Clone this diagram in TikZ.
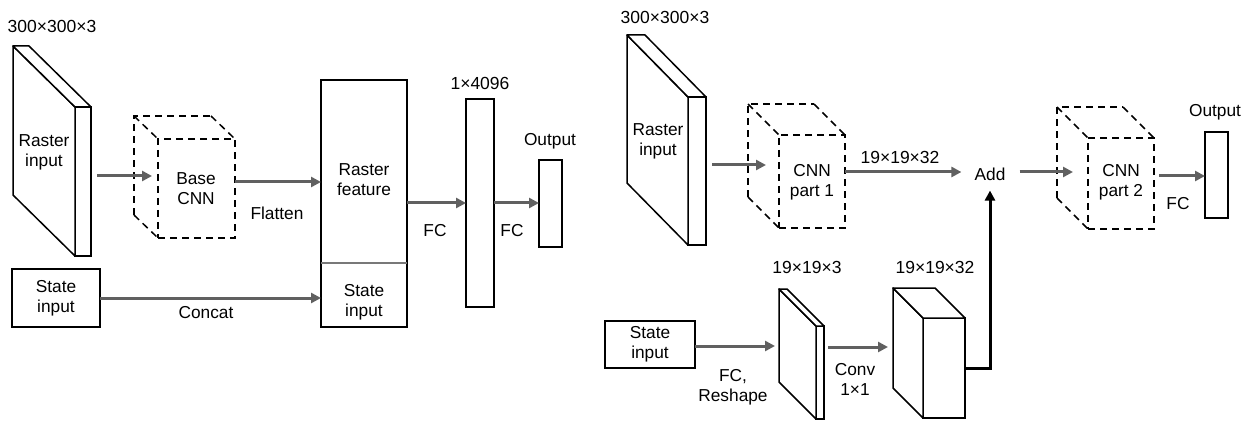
\documentclass[tikz,border=0pt]{standalone}
\usepackage{fontspec}
\setmainfont{Liberation Sans}
\usetikzlibrary{arrows.meta}
\definecolor{arrowgrey}{RGB}{96,96,96}
\definecolor{divgrey}{RGB}{120,120,120}
\tikzset{
  lbl/.style={font=\fontsize{17.3}{20}\selectfont, align=center, inner sep=0pt},
  dimlbl/.style={font=\fontsize{17.5}{20}\selectfont, inner sep=0pt},
  box/.style={draw, line width=1.5pt, fill=white, inner sep=0pt, outer sep=0pt},
  dbox/.style={draw, line width=1.5pt, dash pattern=on 7pt off 5pt, inner sep=0pt, outer sep=0pt},
  edge/.style={line width=1.5pt, line join=round, fill=white},
  dedge/.style={line width=1.5pt, dash pattern=on 7pt off 5pt},
  flow/.style={draw=arrowgrey, line width=3pt, -{Triangle[length=10pt,width=10pt]}},
  blkflow/.style={draw=black, line width=3pt, -{Triangle[length=10pt,width=10pt]}},
}
\begin{document}
\begin{tikzpicture}[x=1pt,y=-1pt]
\useasboundingbox (0,0) rectangle (1250,422);

%================ LEFT DIAGRAM ================
\node[dimlbl] (dimL) at (52,26) {300×300×3};
% raster input slab
\node[box, minimum width=16, minimum height=149] (rsL) at (83,181.5) {};
\draw[edge] (13,46) -- (rsL.north west) -- (rsL.south west) -- (13,195) -- cycle;
\draw[edge] (13,46) -- (29,46) -- (rsL.north east) -- (rsL.north west) -- cycle;
\node[lbl] (rsLt) at (44,152) {Raster\\input};

% base CNN dashed cube
\node[dbox, minimum width=77, minimum height=99] (cnnB) at (196.5,188.5) {};
\coordinate (cBtl) at (134,116);
\coordinate (cBtr) at (211,116);
\coordinate (cBbl) at (134,215);
\draw[dedge] (cBbl) -- (cBtl) -- (cBtr);
\draw[dedge] (cBtl) -- (cnnB.north west);
\draw[dedge] (cBtr) -- (cnnB.north east);
\draw[dedge] (cBbl) -- (cnnB.south west);
\node[lbl] (cnnBt) at (196,189) {Base\\CNN};

% raster feature / state input box
\node[box, minimum width=86, minimum height=247] (rf) at (364,203.5) {};
\draw[divgrey, line width=1.2pt] (rf.west |- 0,263) -- (rf.east |- 0,263);
\node[lbl] (rft) at (364,180) {Raster\\feature};
\node[lbl] (rfs) at (364,302) {State\\input};

% state input box
\node[box, minimum width=88, minimum height=58, lbl] (siL) at (56,298) {State\\input};

% 1x4096
\node[box, minimum width=28, minimum height=208] (fc4096) at (480,203) {};
\node[dimlbl] (dim4096) at (480,83) {1×4096};

% output
\node[box, minimum width=23, minimum height=87] (outL) at (550.5,203.5) {};
\node[lbl] (outLt) at (550,141) {Output};

% arrows left
\coordinate (a1s) at (97,176);
\draw[flow] (a1s) -- (152,176) coordinate (a1e);
\draw[flow] (cnnB.east |- 0,182) -- (rf.west |- 0,182);
\node[lbl] (flat) at (277,213) {Flatten};
\draw[flow] (siL.east) -- (rf.west |- siL.east);
\node[lbl] (concat) at (206,313) {Concat};
\draw[flow] (rf.east |- 0,203) -- (fc4096.west |- 0,203);
\node[lbl] (fc1) at (435,231) {FC};
\draw[flow] (fc4096.east |- 0,203) -- (outL.west |- 0,203);
\node[lbl] (fc2) at (512,231) {FC};

%================ RIGHT DIAGRAM ================
\node[dimlbl] (dimR) at (665,17) {300×300×3};
\node[box, minimum width=18, minimum height=148] (rsR) at (697,171) {};
\draw[edge] (627,35) -- (rsR.north west) -- (rsR.south west) -- (627,183) -- cycle;
\draw[edge] (627,35) -- (645,35) -- (rsR.north east) -- (rsR.north west) -- cycle;
\node[lbl] (rsRt) at (658,141) {Raster\\input};

% CNN part 1
\node[dbox, minimum width=66, minimum height=93] (cnn1) at (812,181.5) {};
\coordinate (c1tl) at (748,104);
\coordinate (c1tr) at (814,104);
\coordinate (c1bl) at (748,197);
\draw[dedge] (c1bl) -- (c1tl) -- (c1tr);
\draw[dedge] (c1tl) -- (cnn1.north west);
\draw[dedge] (c1tr) -- (cnn1.north east);
\draw[dedge] (c1bl) -- (cnn1.south west);
\node[lbl] (cnn1t) at (812,182) {CNN\\part 1};

% Add
\node[lbl] (add) at (990,174) {Add};

% CNN part 2
\node[dbox, minimum width=66, minimum height=91] (cnn2) at (1121,183.5) {};
\coordinate (c2tl) at (1057,107);
\coordinate (c2tr) at (1123,107);
\coordinate (c2bl) at (1057,198);
\draw[dedge] (c2bl) -- (c2tl) -- (c2tr);
\draw[dedge] (c2tl) -- (cnn2.north west);
\draw[dedge] (c2tr) -- (cnn2.north east);
\draw[dedge] (c2bl) -- (cnn2.south west);
\node[lbl] (cnn2t) at (1121,182) {CNN\\part 2};

% output right
\node[box, minimum width=23, minimum height=86] (outR) at (1216.5,175) {};
\node[lbl] (outRt) at (1215,112) {Output};

% state input right
\node[box, minimum width=90, minimum height=47, lbl] (siR) at (650,344.5) {State\\input};

% thin slab 19x19x3
\node[box, minimum width=8, minimum height=93] (s3) at (820,372.5) {};
\draw[edge] (779,289) -- (s3.north west) -- (s3.south west) -- (779,382) -- cycle;
\draw[edge] (779,289) -- (787,289) -- (s3.north east) -- (s3.north west) -- cycle;
\node[dimlbl] (dim3) at (807,267) {19×19×3};

% block 19x19x32
\node[box, minimum width=42, minimum height=100] (b32) at (944,368) {};
\draw[edge] (893,288) -- (b32.north west) -- (b32.south west) -- (893,388) -- cycle;
\draw[edge] (893,288) -- (935,288) -- (b32.north east) -- (b32.north west) -- cycle;
\node[dimlbl] (dim32) at (935,267) {19×19×32};

% arrows right
\coordinate (r1s) at (712,165);
\draw[flow] (r1s) -- (766,165) coordinate (r1e);
\draw[flow, shorten >=13pt] (cnn1.east |- 0,172) -- (add.west |- 0,172);
\node[dimlbl] (dim1932) at (900,157) {19×19×32};
\draw[flow, shorten <=14pt] (add.east |- 0,172) -- (1073,172) coordinate (a2e);
\draw[flow, shorten <=5pt] (cnn2.east |- 0,176) -- (outR.west |- 0,176);
\node[lbl] (fc3) at (1178,204) {FC};
\draw[flow, shorten >=4pt] (siR.east |- 0,346) -- (779,346) coordinate (sie);
\node[lbl] (fcr) at (733,387) {FC,\\Reshape};
\draw[flow, shorten <=4pt] (s3.east |- 0,347) -- (888,347) coordinate (ce);
\node[lbl] (conv) at (855,379) {Conv\\1×1};
\draw[blkflow, shorten >=10pt] (b32.east |- 0,368) -| (add.south);
\end{tikzpicture}
\end{document}
